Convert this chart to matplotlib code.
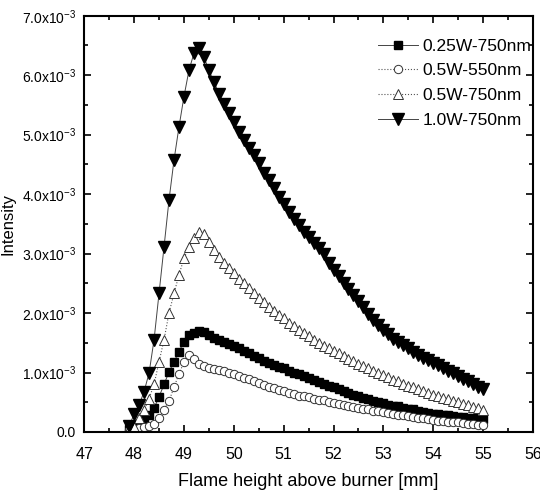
import numpy as np
import matplotlib
matplotlib.use("Agg")
import matplotlib.pyplot as plt
from matplotlib.ticker import MultipleLocator, FuncFormatter

plt.rcParams['font.family'] = ['Liberation Sans', 'DejaVu Sans']
plt.rcParams['mathtext.fontset'] = 'custom'
plt.rcParams['mathtext.rm'] = 'Liberation Sans'
plt.rcParams['mathtext.it'] = 'Liberation Sans'

# flame height [mm], 0.1 mm steps
height = np.round(np.arange(47.9, 55.01, 0.1), 1)

# intensities in units of 1e-3
i_025w_750 = [0.05, 0.08, 0.12, 0.20, 0.28, 0.40, 0.59, 0.80, 1.01, 1.18, 1.35, 1.52, 1.63, 1.67, 1.70,
              1.68, 1.63, 1.58, 1.54, 1.51, 1.48, 1.45, 1.41, 1.37, 1.32, 1.28, 1.24, 1.20, 1.16, 1.13,
              1.10, 1.07, 1.03, 1.00, 0.97, 0.94, 0.90, 0.87, 0.84, 0.81, 0.78, 0.75, 0.72, 0.69, 0.66,
              0.63, 0.60, 0.57, 0.55, 0.52, 0.50, 0.48, 0.46, 0.44, 0.43, 0.41, 0.39, 0.38, 0.36, 0.34,
              0.32, 0.31, 0.30, 0.29, 0.28, 0.27, 0.26, 0.25, 0.24, 0.23, 0.22, 0.21]
i_05w_550 = [0.04, 0.05, 0.06, 0.08, 0.10, 0.13, 0.23, 0.37, 0.52, 0.75, 0.98, 1.17, 1.29, 1.22, 1.15,
             1.11, 1.08, 1.06, 1.04, 1.02, 1.00, 0.97, 0.94, 0.91, 0.89, 0.85, 0.82, 0.79, 0.76, 0.74,
             0.71, 0.69, 0.66, 0.64, 0.61, 0.60, 0.58, 0.56, 0.54, 0.53, 0.51, 0.49, 0.47, 0.46, 0.44,
             0.42, 0.41, 0.39, 0.38, 0.36, 0.35, 0.33, 0.32, 0.30, 0.29, 0.28, 0.27, 0.26, 0.24, 0.23,
             0.21, 0.20, 0.19, 0.18, 0.17, 0.16, 0.16, 0.15, 0.14, 0.13, 0.12, 0.12]
i_05w_750 = [0.05, 0.09, 0.23, 0.37, 0.56, 0.80, 1.18, 1.55, 2.00, 2.33, 2.64, 2.92, 3.11, 3.26, 3.37,
             3.33, 3.20, 3.06, 2.95, 2.85, 2.76, 2.67, 2.58, 2.50, 2.42, 2.34, 2.26, 2.19, 2.11, 2.04,
             1.97, 1.91, 1.84, 1.78, 1.72, 1.66, 1.61, 1.55, 1.50, 1.45, 1.41, 1.36, 1.32, 1.27, 1.23,
             1.19, 1.15, 1.11, 1.07, 1.03, 0.99, 0.95, 0.92, 0.88, 0.85, 0.81, 0.78, 0.75, 0.72, 0.69,
             0.66, 0.63, 0.60, 0.57, 0.55, 0.52, 0.50, 0.47, 0.45, 0.42, 0.40, 0.37]
i_10w_750 = [0.10, 0.30, 0.45, 0.68, 0.99, 1.55, 2.33, 3.11, 3.90, 4.57, 5.13, 5.64, 6.08, 6.37, 6.45,
             6.31, 6.08, 5.89, 5.69, 5.52, 5.36, 5.21, 5.05, 4.91, 4.77, 4.66, 4.52, 4.35, 4.24, 4.10,
             3.95, 3.84, 3.70, 3.59, 3.48, 3.37, 3.28, 3.18, 3.10, 3.00, 2.84, 2.72, 2.62, 2.51, 2.41,
             2.31, 2.20, 2.10, 1.98, 1.88, 1.80, 1.72, 1.64, 1.57, 1.52, 1.47, 1.41, 1.35, 1.30, 1.25,
             1.21, 1.16, 1.12, 1.07, 1.03, 0.99, 0.94, 0.89, 0.85, 0.80, 0.76, 0.72]

labels = ['0.25W-750nm', '0.5W-550nm', '0.5W-750nm', '1.0W-750nm']


def fmt(v, pos):
    if abs(v) < 1e-12:
        return '0.0'
    return '%.1fx10$^{-3}$' % (v * 1e3)


fig = plt.figure(figsize=(5.4, 4.92), dpi=100)
ax = fig.add_axes([0.156, 0.122, 0.831, 0.846])

h = height
ax.plot(h, np.array(i_025w_750) * 1e-3, '-', color='#444444', lw=0.7, marker='s', ms=6,
        mfc='black', mec='black', label=labels[0])
ax.plot(h, np.array(i_05w_550) * 1e-3, ':', color='#555555', lw=0.8, marker='o', ms=6,
        mfc='white', mec='#333333', mew=0.7, label=labels[1])
ax.plot(h, np.array(i_05w_750) * 1e-3, ':', color='#555555', lw=0.8, marker='^', ms=7,
        mfc='white', mec='#333333', mew=0.7, label=labels[2])
ax.plot(h, np.array(i_10w_750) * 1e-3, '-', color='#444444', lw=0.7, marker='v', ms=8,
        mfc='black', mec='black', label=labels[3])

ax.set_xlim(47, 56)
ax.set_ylim(0, 7e-3)
ax.xaxis.set_major_locator(MultipleLocator(1))
ax.xaxis.set_minor_locator(MultipleLocator(0.5))
ax.yaxis.set_major_locator(MultipleLocator(1e-3))
ax.yaxis.set_minor_locator(MultipleLocator(0.5e-3))
ax.yaxis.set_major_formatter(FuncFormatter(fmt))
ax.tick_params(which='both', direction='in', top=True, right=True, width=1.2)
ax.tick_params(which='major', length=5)
ax.tick_params(which='minor', length=3)
ax.tick_params(axis='x', which='major', labelsize=11.5, pad=11)
ax.tick_params(axis='y', which='major', labelsize=10, pad=6)
for s in ax.spines.values():
    s.set_linewidth(1.5)

ax.set_xlabel('Flame height above burner [mm]', fontsize=13, labelpad=8)
ax.set_ylabel('Intensity', fontsize=12, labelpad=4)

ax.legend(loc='upper right', frameon=False, fontsize=12.5, handlelength=2.3,
          handletextpad=0.3, labelspacing=0.55, borderpad=0, borderaxespad=0,
          bbox_to_anchor=(0.997, 0.945))

fig.savefig('out.png', dpi=100)
